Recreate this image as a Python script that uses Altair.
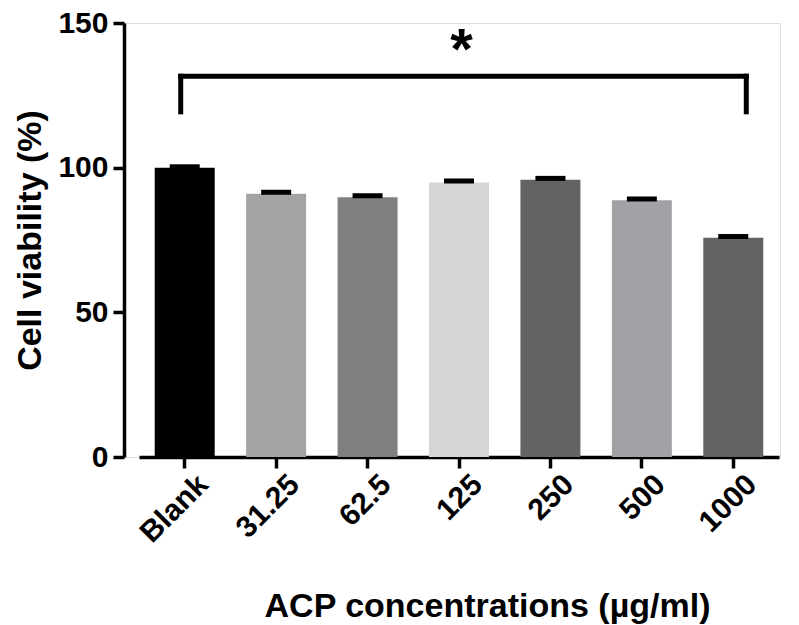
import altair as alt
import pandas as pd

# ---- data ----
CATEGORIES = ["Blank", "31.25", "62.5", "125", "250", "500", "1000"]
VIABILITY = [100.0, 91.0, 89.8, 94.9, 95.8, 88.7, 75.8]
ERRORS = [0.3, 0.5, 0.5, 0.5, 0.5, 0.5, 0.4]
BAR_COLORS = ["#000000", "#a3a3a5", "#808080", "#d5d5d5", "#636363", "#a2a2a6", "#626262"]

Y_TICKS = [0, 50, 100, 150]

# significance bracket (Blank vs 1000)
BRACKET_FROM = ["Blank"]
BRACKET_TO = ["1000"]
BRACKET_TOP = [131.6]
BRACKET_BOTTOM = [119.3]
STAR_LABEL = ["*"]
STAR_AT = ["125"]
STAR_Y = [140.0]

FONT = "Liberation Sans"

df = pd.DataFrame({
    "conc": CATEGORIES,
    "viability": VIABILITY,
    "err": ERRORS,
})
df["upper"] = df["viability"] + df["err"]

br = pd.DataFrame({"a": BRACKET_FROM, "b": BRACKET_TO, "top": BRACKET_TOP, "bottom": BRACKET_BOTTOM})
star = pd.DataFrame({"label": STAR_LABEL, "at": STAR_AT, "y": STAR_Y})

W, H = 656, 434

x_scale = alt.Scale(domain=CATEGORIES, range=[15, 655], paddingInner=0.344, paddingOuter=0.172)
y_scale = alt.Scale(domain=[0, 150], nice=False)

x_axis = alt.Axis(
    title="ACP concentrations (µg/ml)",
    labelAngle=-45, labelFont=FONT, labelFontSize=30, labelFontWeight="bold", labelColor="black",
    labelPadding=1, labelOffset=8,
    titleFont=FONT, titleFontSize=34, titleFontWeight="bold", titleColor="black",
    titleX=363, titleY=159, titleBaseline="alphabetic", titleAlign="center", titleAnchor="start",
    domainColor="black", domainWidth=3.5, tickColor="black", tickWidth=3.5, tickSize=11,
    grid=False,
)
y_axis = alt.Axis(
    title="Cell viability (%)", values=Y_TICKS,
    labelFont=FONT, labelFontSize=30, labelFontWeight="bold", labelColor="black", labelPadding=5,
    titleFont=FONT, titleFontSize=34, titleFontWeight="bold", titleColor="black",
    titleX=-94, titleY=H / 2, titleAngle=-90, titleAlign="center", titleBaseline="middle",
    titleAnchor="start",
    domainColor="black", domainWidth=3.5, tickColor="black", tickWidth=3.5, tickSize=11,
    grid=False,
)

bars = alt.Chart(df).mark_bar().encode(
    x=alt.X("conc:N", scale=x_scale, axis=x_axis, sort=CATEGORIES),
    y=alt.Y("viability:Q", scale=y_scale, axis=y_axis),
    color=alt.Color("conc:N", scale=alt.Scale(domain=CATEGORIES, range=BAR_COLORS), legend=None),
)

err_rule = alt.Chart(df).mark_rule(color="black", strokeWidth=3).encode(
    x=alt.X("conc:N", scale=x_scale, sort=CATEGORIES),
    y="viability:Q",
    y2="upper:Q",
)
caps = alt.Chart(df).mark_tick(color="black", size=30, thickness=5, opacity=1).encode(
    x=alt.X("conc:N", scale=x_scale, sort=CATEGORIES),
    y=alt.Y("upper:Q", scale=y_scale),
)

horiz = alt.Chart(br).mark_rule(color="black", strokeWidth=5, strokeCap="square", xOffset=-4, x2Offset=13).encode(
    x=alt.X("a:N", scale=x_scale),
    x2="b:N",
    y=alt.Y("top:Q", scale=y_scale),
)
left_leg = alt.Chart(br).mark_rule(color="black", strokeWidth=5, strokeCap="square", xOffset=-4).encode(
    x=alt.X("a:N", scale=x_scale),
    y=alt.Y("bottom:Q", scale=y_scale),
    y2="top:Q",
)
right_leg = alt.Chart(br).mark_rule(color="black", strokeWidth=5, strokeCap="square", xOffset=13).encode(
    x=alt.X("b:N", scale=x_scale),
    y=alt.Y("bottom:Q", scale=y_scale),
    y2="top:Q",
)
star_text = alt.Chart(star).mark_text(
    font=FONT, fontSize=58, fontWeight="bold", color="black", baseline="middle", dx=2.5
).encode(
    x=alt.X("at:N", scale=x_scale),
    y=alt.Y("y:Q", scale=y_scale),
    text="label:N",
)

chart = alt.layer(bars, err_rule, caps, horiz, left_leg, right_leg, star_text).properties(
    width=W, height=H,
    autosize=alt.AutoSizeParams(type="none"),
    padding={"left": 116, "top": 15, "right": 10, "bottom": 168},
).configure_view(stroke=None).configure(background="white")

chart.save("out.html", embed_options={"renderer": "svg", "actions": False})
